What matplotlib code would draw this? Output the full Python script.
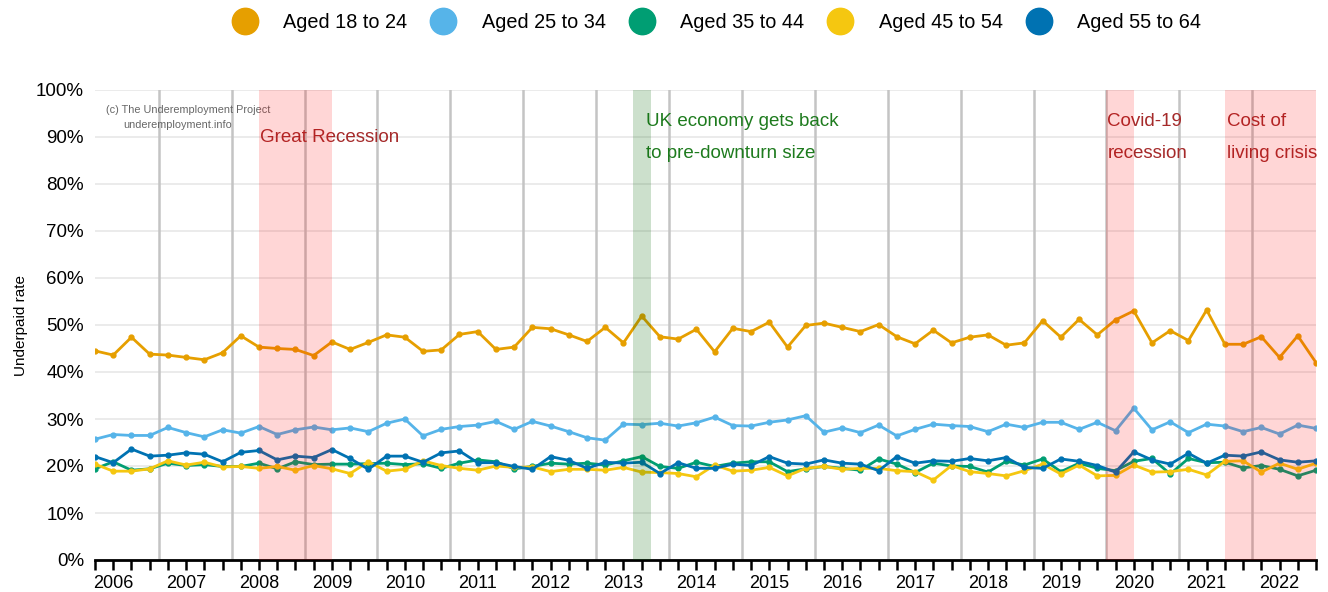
import numpy as np
import matplotlib
matplotlib.use("Agg")
from matplotlib import pyplot as plt
from matplotlib.lines import Line2D

plt.rcParams["font.family"] = ["Liberation Sans", "DejaVu Sans"]

# quarterly underpaid rates (%), 2006 Q1 .. 2022 Q4
years = list(range(2006, 2023))
age_groups = ["Aged 18 to 24", "Aged 25 to 34", "Aged 35 to 44", "Aged 45 to 54", "Aged 55 to 64"]
colours = ["#E69F00", "#56B4E9", "#009E73", "#F5C710", "#0072B2"]

aged_18_24 = [44.5, 43.6, 47.4, 43.8, 43.6, 43.1, 42.6, 44.1, 47.7, 45.3,
              45.0, 44.8, 43.5, 46.4, 44.8, 46.3, 47.9, 47.4, 44.4, 44.7,
              48.0, 48.6, 44.8, 45.3, 49.5, 49.2, 47.9, 46.5, 49.5, 46.2,
              51.9, 47.5, 47.0, 49.1, 44.3, 49.3, 48.6, 50.6, 45.3, 49.9,
              50.4, 49.5, 48.6, 50.1, 47.5, 46.0, 48.9, 46.2, 47.4, 47.9,
              45.7, 46.2, 50.9, 47.4, 51.2, 47.9, 51.1, 53.0, 46.2, 48.8,
              46.7, 53.2, 45.9, 45.9, 47.5, 43.1, 47.7, 42.0]
aged_25_34 = [25.7, 26.7, 26.5, 26.5, 28.2, 27.1, 26.2, 27.7, 27.0, 28.4,
              26.7, 27.7, 28.3, 27.7, 28.1, 27.3, 29.1, 30.0, 26.4, 27.8,
              28.4, 28.7, 29.5, 27.8, 29.5, 28.5, 27.3, 26.0, 25.5, 28.9,
              28.8, 29.1, 28.5, 29.2, 30.4, 28.6, 28.5, 29.3, 29.8, 30.7,
              27.2, 28.1, 27.1, 28.7, 26.4, 27.8, 28.9, 28.6, 28.4, 27.3,
              28.9, 28.2, 29.3, 29.3, 27.8, 29.3, 27.5, 32.3, 27.7, 29.4,
              27.1, 28.9, 28.5, 27.3, 28.2, 26.8, 28.7, 28.0]
aged_35_44 = [19.4, 20.9, 19.1, 19.4, 20.6, 20.1, 20.3, 19.9, 19.9, 20.6,
              19.4, 20.9, 20.3, 20.4, 20.4, 20.5, 20.6, 20.3, 20.5, 19.5,
              20.6, 21.3, 20.9, 19.4, 19.9, 20.6, 20.4, 20.6, 20.2, 21.1,
              22.0, 19.9, 19.5, 20.8, 19.9, 20.6, 20.9, 20.9, 18.8, 19.4,
              19.9, 19.5, 19.1, 21.5, 20.4, 18.6, 20.6, 20.0, 19.9, 18.7,
              21.0, 20.2, 21.5, 18.8, 20.6, 19.5, 19.0, 21.0, 21.6, 18.3,
              21.6, 20.7, 20.8, 19.6, 20.1, 19.3, 17.9, 19.1]
aged_45_54 = [20.4, 18.9, 18.9, 19.4, 21.1, 20.2, 20.8, 19.8, 19.9, 19.5,
              19.9, 19.1, 20.1, 19.4, 18.4, 20.9, 18.9, 19.3, 21.1, 20.1,
              19.5, 19.1, 20.0, 19.7, 19.8, 18.8, 19.3, 19.3, 19.1, 19.7,
              18.7, 18.6, 18.4, 17.7, 20.2, 18.9, 19.1, 19.7, 17.9, 19.5,
              19.9, 19.3, 19.5, 19.5, 19.0, 18.8, 17.0, 20.1, 18.8, 18.4,
              17.9, 19.0, 20.4, 18.3, 20.2, 17.9, 18.0, 20.2, 18.7, 18.8,
              19.3, 18.1, 21.0, 21.1, 18.7, 20.6, 19.3, 20.6]
aged_55_64 = [22.0, 20.7, 23.6, 22.1, 22.3, 22.8, 22.5, 20.9, 22.9, 23.3,
              21.3, 22.1, 21.8, 23.5, 21.6, 19.3, 22.1, 22.1, 20.8, 22.8,
              23.2, 20.7, 20.7, 19.9, 19.3, 22.0, 21.2, 19.5, 20.8, 20.6,
              20.8, 18.4, 20.7, 19.5, 19.5, 20.4, 20.1, 22.0, 20.6, 20.4,
              21.3, 20.6, 20.4, 19.0, 22.0, 20.6, 21.1, 21.0, 21.6, 21.1,
              21.8, 19.7, 19.5, 21.5, 21.0, 20.1, 18.7, 23.0, 21.3, 20.4,
              22.7, 20.6, 22.3, 22.1, 23.0, 21.3, 20.8, 21.1]
series = [aged_18_24, aged_25_34, aged_35_44, aged_45_54, aged_55_64]

# shaded periods (quarter index start, end)
recessions = [(9, 13), (55.5, 57), (62, 67)]
recovery = (29.5, 30.5)

fig = plt.figure(figsize=(13.28, 5.92), dpi=100)
ax = fig.add_axes([95 / 1328, 32 / 592, 1221 / 1328, 470 / 592])

x = np.arange(len(aged_18_24))
for vals, col in zip(series, colours):
    ax.plot(x, vals, color=col, linewidth=2.0, marker="o", markersize=3.5, zorder=3)

# year separators
for k in range(len(years) - 1):
    ax.axvline(3.5 + 4 * k, color="#c4c4c4", linewidth=1.8, zorder=2)

for a, b in recessions:
    ax.axvspan(a, b, color="red", alpha=0.16, linewidth=0, zorder=4)
ax.axvspan(*recovery, color="#006400", alpha=0.2, linewidth=0, zorder=4)

ax.set_xlim(0, len(x) - 1)
ax.set_ylim(0, 100)
ax.set_yticks(range(0, 101, 10))
ax.set_yticklabels([f"{v}%" for v in range(0, 101, 10)], fontsize=13.5)
ax.yaxis.grid(True, color="#ebebeb", linewidth=1.4)
ax.set_axisbelow(True)
ax.tick_params(axis="y", length=0, pad=8)

ax.set_xticks(x)
ax.set_xticklabels([str(years[i // 4]) if i % 4 == 1 else "" for i in x], fontsize=13)
ax.tick_params(axis="x", length=7, width=1.8, color="black", pad=4)

for s in ["top", "right", "left"]:
    ax.spines[s].set_visible(False)
ax.spines["bottom"].set_linewidth(2)
ax.set_ylabel("Underpaid rate", fontsize=11, labelpad=6)

ax.text(0.6, 95.7, "(c) The Underemployment Project", fontsize=7.8, color="#666666", va="center")
ax.text(1.55, 92.55, "underemployment.info", fontsize=7.8, color="#666666", va="center")

red_txt = "#a52a2a"
green_txt = "#1e7b1e"
ax.text(9.05, 89.8, "Great Recession", fontsize=13.5, color=red_txt, va="center")
ax.text(30.25, 93.2, "UK economy gets back", fontsize=13.5, color=green_txt, va="center")
ax.text(30.25, 86.4, "to pre-downturn size", fontsize=13.5, color=green_txt, va="center")
ax.text(55.55, 93.2, "Covid-19", fontsize=13.5, color=red_txt, va="center")
ax.text(55.55, 86.4, "recession", fontsize=13.5, color=red_txt, va="center")
ax.text(62.1, 93.2, "Cost of", fontsize=13.5, color=red_txt, va="center")
ax.text(62.1, 86.4, "living crisis", fontsize=13.5, color=red_txt, va="center")

handles = [Line2D([], [], linestyle="none", marker="o", markersize=19, color=c) for c in colours]
fig.legend(handles, age_groups, loc="center", bbox_to_anchor=(718 / 1328, 1 - 22 / 592),
           ncol=5, frameon=False, fontsize=14.3, handlelength=1.0, handletextpad=1.45,
           columnspacing=1.3)

fig.savefig("out.png", dpi=100)
